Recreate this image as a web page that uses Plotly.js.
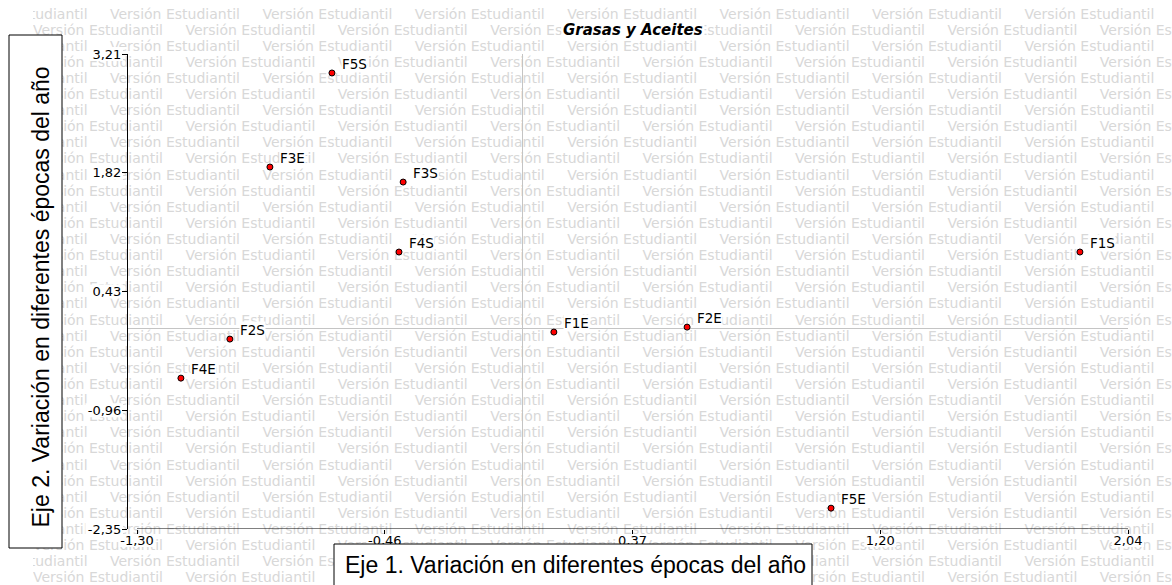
<!DOCTYPE html>
<html>
<head>
<meta charset="utf-8">
<script src="https://cdn.plot.ly/plotly-3.0.1.min.js"></script>
<style>html,body{margin:0;padding:0;background:#fff;}#chart{width:1172px;height:585px;}</style>
</head>
<body>
<div id="chart"></div>
<script>
// ---- data ----
const pointLabels = ['F1E','F2E','F3E','F4E','F5E','F1S','F2S','F3S','F4S','F5S'];
const eje1 = [0.105, 0.554, -0.852, -1.152, 1.039, 1.878, -0.987, -0.403, -0.417, -0.643];
const eje2 = [-0.045, 0.013, 1.887, -0.584, -2.106, 0.892, -0.127, 1.711, 0.892, 2.988];
const xTickVals = [-1.30, -0.465, 0.37, 1.205, 2.04];
const xTickText = ['-1,30', '-0,46', '0,37', '1,20', '2,04'];
const yTickVals = [-2.35, -0.96, 0.43, 1.82, 3.21];
const yTickText = ['-2,35', '-0,96', '0,43', '1,82', '3,21'];
const chartTitle = 'Grasas y Aceites';
const xTitle = 'Eje 1. Variación en diferentes épocas del año';
const yTitle = 'Eje 2. Variación en diferentes épocas del año';
const watermarkText = 'Versión Estudiantil';

// ---- layout geometry (pixels) ----
const W = 1172, H = 585;
const PL = 128, PR = 1128, PT = 54, PB = 529;   // plot area of the main axes
const WM_LEFT = 33;                              // watermark starts here
const X_MIN = -1.30, X_MAX = 2.04, Y_MIN = -2.35, Y_MAX = 3.21;
const X_LO = X_MAX - (X_MAX - X_MIN) * (PR - PL) / (PR - (PL + 9));
const xPix = v => PL + (v - X_LO) / (X_MAX - X_LO) * (PR - PL);
const yPix = v => PB - (v - Y_MIN) / (Y_MAX - Y_MIN) * (PB - PT);
const TICK_FONT = {family: 'DejaVu Sans', size: 13, color: '#000'};

const cv = document.createElement('canvas').getContext('2d');
function textW(t, size) { cv.font = size + 'px "DejaVu Sans"'; return cv.measureText(t).width; }

// ---- watermark (background text on a helper axis pair in pixel units) ----
const WM_FONT = {family: 'DejaVu Sans', size: 14, color: '#d8d8d8'};
const wmX = [], wmY = [], wmT = [];
const period = 152.4, rowStep = 16.11;
for (let r = 0; r < 36; r++) {
  const py = 15 + r * rowStep;
  const sx = (r % 2 === 0 ? 110 : 33) - period;
  for (let px = sx; px < W; px += period) { wmX.push(px); wmY.push(py); wmT.push(watermarkText); }
}

// white patches behind tick labels (they hide the watermark like in the original)
const bgX = [], bgY = [];
function addRect(x0, x1, y0, y1) { bgX.push(x0, x1, x1, x0, x0, null); bgY.push(y0, y0, y1, y1, y0, null); }
xTickVals.forEach((v, i) => {
  const w = textW(xTickText[i], TICK_FONT.size) + 3, c = xPix(v);
  addRect(c - w / 2, c + w / 2, 534, 547);
});
yTickVals.forEach((v, i) => {
  const w = textW(yTickText[i], TICK_FONT.size) + 3, c = yPix(v);
  addRect(PL - 5 - w - 1, PL - 5, c - 7, c + 7);
});

const traces = [
  {
    type: 'scatter', mode: 'text', x: wmX, y: wmY, text: wmT, xaxis: 'x', yaxis: 'y',
    textposition: 'middle right', cliponaxis: true, hoverinfo: 'skip', showlegend: false,
    textfont: WM_FONT
  },
  {
    type: 'scatter', mode: 'lines', x: bgX, y: bgY, xaxis: 'x', yaxis: 'y',
    fill: 'toself', fillcolor: '#ffffff', line: {width: 0, color: 'rgba(0,0,0,0)'},
    hoverinfo: 'skip', showlegend: false
  },
  {
    type: 'scatter', mode: 'markers', x: eje1, y: eje2, text: pointLabels,
    xaxis: 'x2', yaxis: 'y2',
    hoverinfo: 'text', showlegend: false, cliponaxis: false,
    marker: {color: '#ff0000', size: 6, line: {color: '#000', width: 1}}
  }
];

const annotations = pointLabels.map((t, i) => ({
  x: eje1[i], y: eje2[i], xref: 'x2', yref: 'y2', text: t, showarrow: false,
  xanchor: 'left', yanchor: 'middle', xshift: 9, yshift: 9,
  bgcolor: '#ffffff', borderpad: 0,
  font: {family: 'DejaVu Sans', size: 13.5, color: '#000'}
}));
annotations.push({
  xref: 'paper', yref: 'paper', x: 632.5 / W, y: 1 - 30 / H, text: chartTitle,
  showarrow: false, xanchor: 'center', yanchor: 'middle', bgcolor: '#ffffff', borderpad: 1,
  font: {family: 'DejaVu Sans', size: 15, color: '#000', weight: 'bold', style: 'italic'}
});
annotations.push({
  xref: 'paper', yref: 'paper', x: 575 / W, y: 1 - 565 / H, text: xTitle,
  showarrow: false, xanchor: 'center', yanchor: 'middle',
  font: {family: 'Liberation Sans, Arial', size: 23, color: '#000'}
});
annotations.push({
  xref: 'paper', yref: 'paper', x: 40.5 / W, y: 1 - 297 / H, text: yTitle,
  showarrow: false, xanchor: 'center', yanchor: 'middle', textangle: -90,
  font: {family: 'Liberation Sans, Arial', size: 23, color: '#000'}
});

const shapes = [
  {type: 'rect', xref: 'paper', yref: 'paper', x0: 9 / W, x1: 62 / W, y0: 1 - 548 / H, y1: 1 - 35 / H,
   fillcolor: '#ffffff', line: {color: '#000', width: 1}, layer: 'above'},
  {type: 'rect', xref: 'paper', yref: 'paper', x0: 334 / W, x1: 812 / W, y0: -0.05, y1: 1 - 544 / H,
   fillcolor: '#ffffff', line: {color: '#000', width: 1}, layer: 'above'},
  {type: 'line', xref: 'x2', yref: 'y2', x0: X_MIN, x1: X_MAX, y0: Y_MIN, y1: Y_MIN,
   line: {color: '#000', width: 1}, layer: 'above'}
];

const layout = {
  width: W, height: H, autosize: false,
  margin: {l: 0, r: 0, t: 0, b: 0, pad: 0},
  paper_bgcolor: '#ffffff', plot_bgcolor: 'rgba(0,0,0,0)',
  showlegend: false,
  xaxis: {domain: [WM_LEFT / W, 1], range: [WM_LEFT, W], visible: false, fixedrange: true},
  yaxis: {domain: [0, 1], range: [H, 0], visible: false, fixedrange: true},
  xaxis2: {
    domain: [PL / W, PR / W], anchor: 'y2',
    range: [X_LO, X_MAX], showgrid: false, showline: false, zeroline: true,
    zerolinecolor: '#c4c4c4', zerolinewidth: 1,
    tickmode: 'array', tickvals: xTickVals, ticktext: xTickText,
    ticks: 'outside', ticklen: 4, tickcolor: '#000', tickwidth: 1, ticklabelstandoff: -5,
    tickfont: TICK_FONT, fixedrange: true
  },
  yaxis2: {
    domain: [(H - PB) / H, (H - PT) / H], anchor: 'x2',
    range: [Y_MIN, Y_MAX], showgrid: false, showline: true, linecolor: '#000', linewidth: 1,
    zeroline: true, zerolinecolor: '#c4c4c4', zerolinewidth: 1,
    tickmode: 'array', tickvals: yTickVals, ticktext: yTickText,
    ticks: 'outside', ticklen: 5, tickcolor: '#000', tickwidth: 1, ticklabelstandoff: -2,
    tickfont: TICK_FONT, fixedrange: true
  },
  shapes: shapes,
  annotations: annotations
};

Plotly.newPlot('chart', traces, layout, {displayModeBar: false, staticPlot: true});
</script>
</body>
</html>
